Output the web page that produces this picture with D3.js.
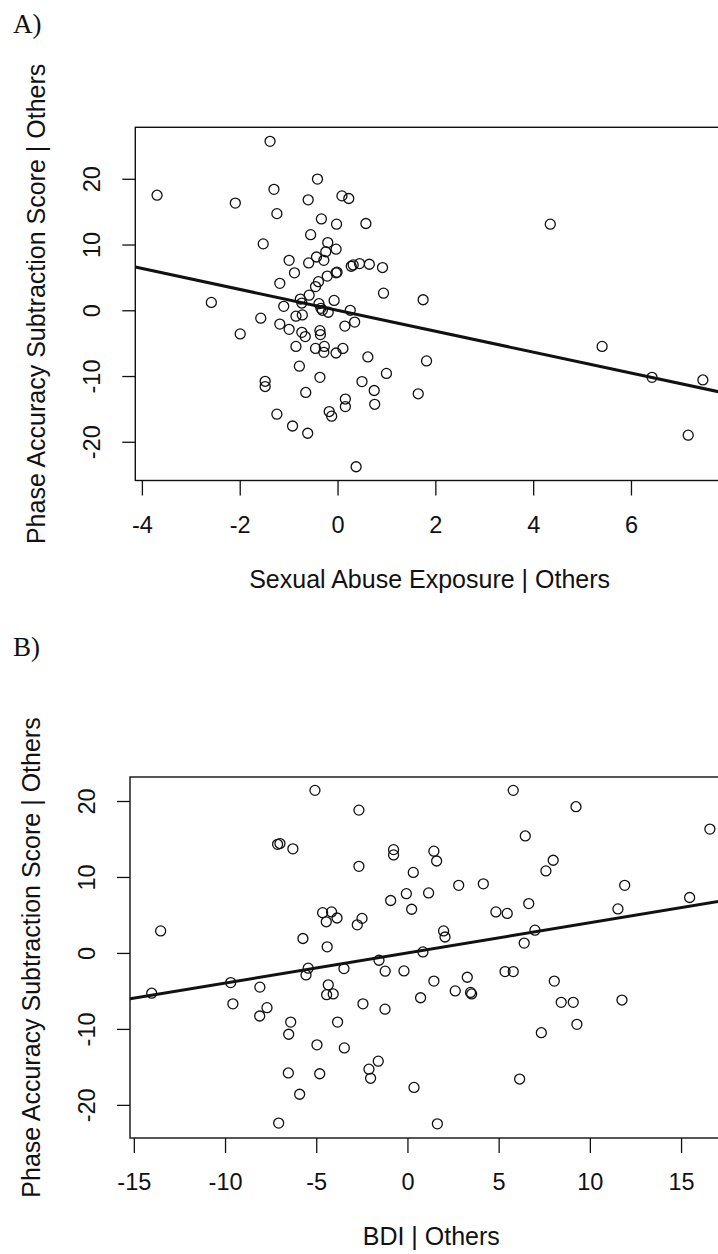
<!DOCTYPE html>
<html>
<head>
<meta charset="utf-8">
<script src="https://cdn.jsdelivr.net/npm/d3@7"></script>
<style>
  html, body { margin: 0; padding: 0; background: #fff; }
  svg { display: block; }
  text { fill: #111; }
</style>
</head>
<body>
<svg width="718" height="1254"></svg>
<script>
// panel A: sexual abuse exposure vs phase accuracy (residuals)
const abuseX = [-3.69,-2.58,-2.09,-1.99,-1.57,-1.52,-1.48,-1.48,-1.38,-1.30,-1.24,-1.24,-1.18,-1.18,-1.10,-0.99,-0.99,-0.92,-0.88,-0.85,-0.85,-0.78,-0.76,-0.73,-0.72,-0.73,-0.66,-0.65,-0.61,-0.60,-0.59,-0.58,-0.55,-0.45,-0.45,-0.43,-0.41,-0.39,-0.38,-0.36,-0.35,-0.36,-0.34,-0.33,-0.31,-0.28,-0.28,-0.27,-0.24,-0.21,-0.20,-0.19,-0.17,-0.12,-0.07,-0.03,-0.03,-0.01,-0.02,-0.03,0.09,0.11,0.15,0.16,0.16,0.23,0.26,0.28,0.32,0.35,0.38,0.45,0.50,0.58,0.62,0.65,0.75,0.76,0.92,0.94,1.00,1.65,1.75,1.82,4.35,5.41,6.43,7.47,7.17];
const phaseA = [17.5,1.2,16.3,-3.6,-1.2,10.1,-10.8,-11.6,25.7,18.4,14.7,-15.8,4.1,-2.1,0.6,7.6,-2.9,-17.6,5.7,-0.9,-5.5,-8.5,1.7,1.1,-0.7,-3.35,-4.0,-12.5,-18.7,16.8,7.2,2.3,11.5,3.6,-5.8,8.1,19.95,4.35,1.0,-3.1,-3.7,-10.2,0.3,13.9,0.0,7.6,-6.4,-5.5,8.9,5.2,10.3,-0.3,-15.4,-16.1,1.5,9.3,5.7,5.8,13.1,-6.5,17.4,-5.8,-2.4,-13.5,-14.65,17.0,0.0,6.7,6.9,-1.8,-23.8,7.1,-10.85,13.2,-7.1,7.0,-12.2,-14.3,6.5,2.6,-9.6,-12.7,1.6,-7.7,13.1,-5.5,-10.2,-10.6,-19.0];
const fitA = { slope: -1.59, intercept: 0.0 };
const xTicksA = [-4, -2, 0, 2, 4, 6];
const yTicksA = [-20, -10, 0, 10, 20];

// panel B: BDI vs phase accuracy (residuals)
const bdiX = [-14.02,-13.53,-9.69,-9.57,-8.09,-8.10,-7.70,-7.12,-6.99,-6.28,-7.06,-6.40,-6.51,-6.53,-5.91,-5.73,-5.07,-5.44,-5.56,-4.96,-4.81,-4.65,-4.45,-4.16,-3.86,-4.40,-4.34,-4.43,-4.07,-3.48,-3.83,-3.46,-2.75,-2.49,-2.66,-2.66,-2.44,-2.11,-2.02,-1.60,-1.56,-1.22,-1.23,-0.92,-0.76,-0.76,-0.19,-0.06,0.23,0.32,0.36,0.72,0.85,1.16,1.45,1.60,1.45,1.98,2.06,1.64,2.62,2.81,3.28,3.46,3.52,4.16,4.85,5.47,5.35,5.80,5.80,6.15,6.40,6.46,6.65,6.99,7.34,7.59,7.99,8.05,8.43,9.09,9.29,9.24,11.54,11.91,11.76,15.47,16.58];
const phaseB = [-5.3,2.9,-3.9,-6.7,-4.5,-8.3,-7.2,14.3,14.4,13.7,-22.4,-9.1,-10.7,-15.8,-18.6,1.9,21.4,-2.0,-2.9,-12.1,-15.9,5.3,4.1,5.4,4.6,0.8,-4.2,-5.5,-5.4,-2.06,-9.1,-12.5,3.7,4.55,11.4,18.8,-6.7,-15.3,-16.5,-14.25,-0.96,-2.4,-7.4,6.9,13.6,12.9,-2.37,7.8,5.75,10.6,-17.7,-5.9,0.13,7.9,13.4,12.1,-3.7,2.9,2.1,-22.5,-5.0,8.9,-3.2,-5.2,-5.4,9.1,5.4,5.2,-2.45,-2.45,21.4,-16.6,1.3,15.4,6.5,3.0,-10.5,10.8,12.2,-3.7,-6.5,-6.5,-9.4,19.25,5.8,8.9,-6.2,7.3,16.3];
const fitB = { slope: 0.397, intercept: 0.0 };
const xTicksB = [-15, -10, -5, 0, 5, 10, 15];
const yTicksB = [-20, -10, 0, 10, 20];

const svg = d3.select("svg");
const sans = "'Liberation Sans', Arial, sans-serif";
// R prints a plain hyphen for negatives
const rFormat = d => String(d);

function drawPanel(opt) {
  const x = d3.scaleLinear().domain(opt.xDomain).range([opt.left, opt.right]);
  const y = d3.scaleLinear().domain(opt.yDomain).range([opt.bottom, opt.top]);
  const g = svg.append("g");

  g.append("text")
    .attr("x", 13).attr("y", opt.tagY)
    .attr("font-family", "'Liberation Serif', 'Times New Roman', serif")
    .attr("font-size", 27)
    .text(opt.tag);

  // clip region for the fitted line
  g.append("clipPath").attr("id", opt.id)
    .append("rect")
    .attr("x", opt.left).attr("y", opt.top)
    .attr("width", opt.right - opt.left).attr("height", opt.bottom - opt.top);

  // axes, R style: ticks outside, labels below / rotated on the left
  const xAxis = g.append("g")
    .attr("transform", "translate(0," + opt.bottom + ")")
    .call(d3.axisBottom(x).tickValues(opt.xTicks).tickSize(15).tickSizeOuter(0).tickFormat(rFormat));
  xAxis.select(".domain").remove();
  xAxis.selectAll("line").attr("stroke", "#111").attr("stroke-width", 1.3);
  xAxis.selectAll("text")
    .attr("font-family", sans).attr("font-size", 23.5).attr("fill", "#111")
    .attr("dy", null).attr("y", 52);

  const yAxis = g.append("g")
    .attr("transform", "translate(" + opt.left + ",0)")
    .call(d3.axisLeft(y).tickValues(opt.yTicks).tickSize(13).tickSizeOuter(0).tickFormat(rFormat));
  yAxis.select(".domain").remove();
  yAxis.selectAll("line").attr("stroke", "#111").attr("stroke-width", 1.3);
  yAxis.selectAll("text")
    .attr("font-family", sans).attr("font-size", 23.5).attr("fill", "#111")
    .attr("x", null).attr("dy", null).attr("y", null)
    .attr("text-anchor", "middle")
    .attr("transform", "translate(-35,0) rotate(-90)");

  // box
  g.append("rect")
    .attr("x", opt.left).attr("y", opt.top)
    .attr("width", opt.right - opt.left).attr("height", opt.bottom - opt.top)
    .attr("fill", "none").attr("stroke", "#111").attr("stroke-width", 1.4);

  const pts = opt.xs.map((v, i) => ({ x: v, y: opt.ys[i] }));
  g.append("g").selectAll("circle")
    .data(pts)
    .enter().append("circle")
    .attr("cx", d => x(d.x))
    .attr("cy", d => y(d.y))
    .attr("r", 5)
    .attr("fill", "none")
    .attr("stroke", "#111")
    .attr("stroke-width", 1.3);

  const x0 = opt.xDomain[0], x1 = opt.xDomain[1];
  g.append("line")
    .attr("clip-path", "url(#" + opt.id + ")")
    .attr("x1", x(x0)).attr("y1", y(opt.fit.intercept + opt.fit.slope * x0))
    .attr("x2", x(x1)).attr("y2", y(opt.fit.intercept + opt.fit.slope * x1))
    .attr("stroke", "#111").attr("stroke-width", 3);

  g.append("text")
    .attr("x", (opt.left + opt.right) / 2).attr("y", opt.bottom + 107)
    .attr("text-anchor", "middle")
    .attr("font-family", sans).attr("font-size", 25)
    .text(opt.xLabel);

  g.append("text")
    .attr("transform", "translate(" + (opt.left - 90) + "," + ((opt.top + opt.bottom) / 2) + ") rotate(-90)")
    .attr("text-anchor", "middle")
    .attr("font-family", sans).attr("font-size", 25)
    .text(opt.yLabel);
}

drawPanel({
  id: "clipA", tag: "A)", tagY: 33,
  xs: abuseX, ys: phaseA, fit: fitA,
  xTicks: xTicksA, yTicks: yTicksA,
  xDomain: [-4.135, 7.9], yDomain: [-25.89, 27.83],
  left: 135.3, right: 723.9, top: 127.3, bottom: 480.5,
  xLabel: "Sexual Abuse Exposure | Others",
  yLabel: "Phase Accuracy Subtraction Score | Others"
});

drawPanel({
  id: "clipB", tag: "B)", tagY: 656,
  xs: bdiX, ys: phaseB, fit: fitB,
  xTicks: xTicksB, yTicks: yTicksB,
  xDomain: [-15.21, 17.82], yDomain: [-24.36, 23.16],
  left: 130, right: 732.5, top: 777, bottom: 1138,
  xLabel: "BDI | Others",
  yLabel: "Phase Accuracy Subtraction Score | Others"
});
</script>
</body>
</html>
